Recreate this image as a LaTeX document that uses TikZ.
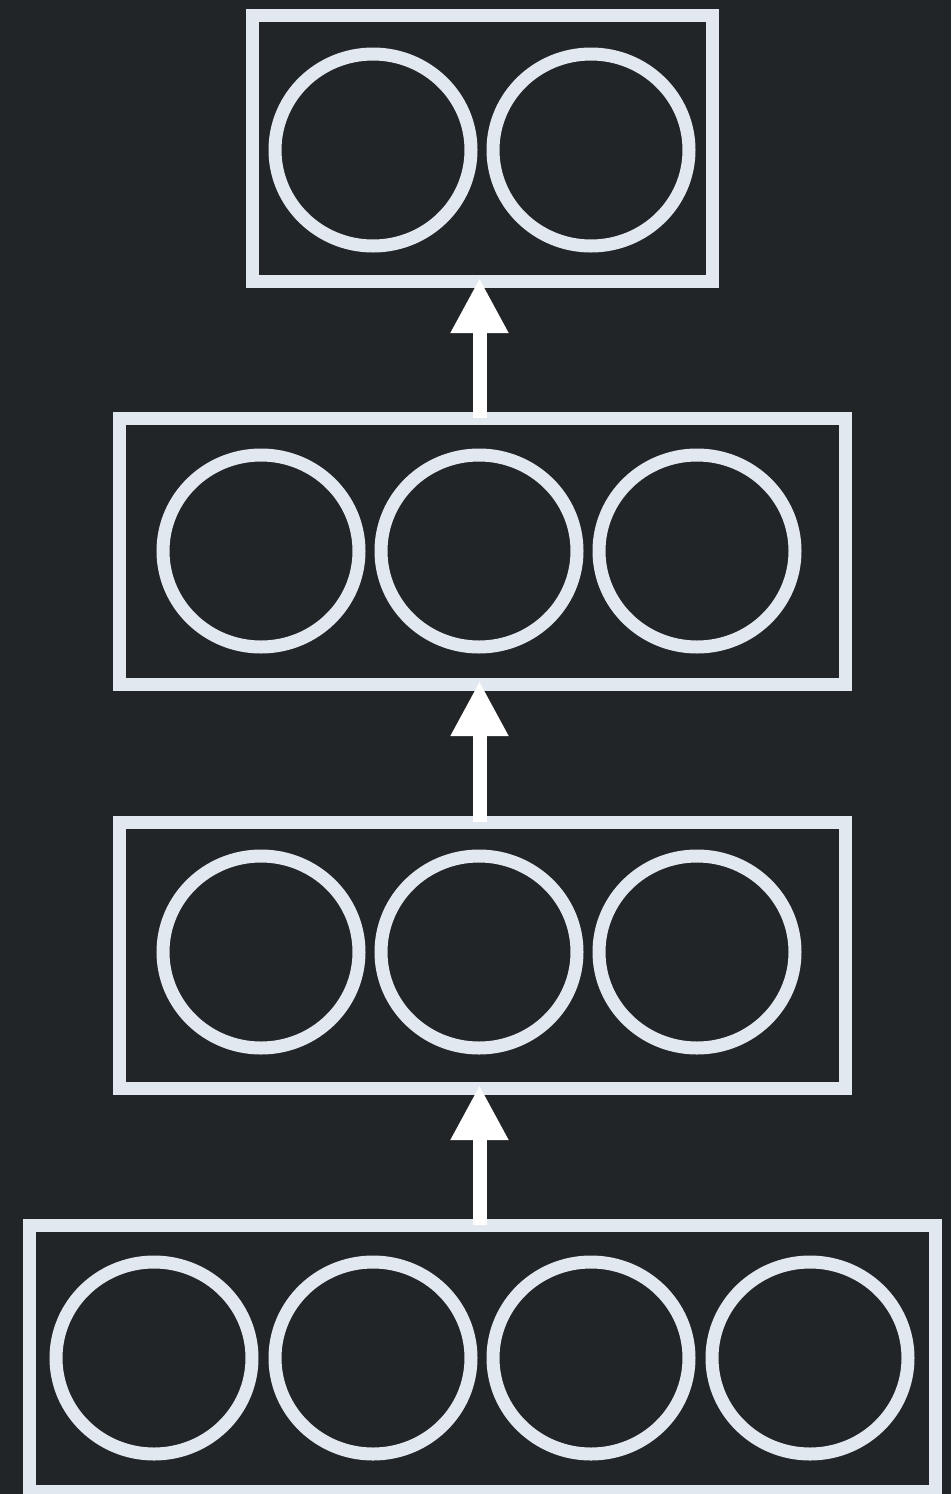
\documentclass[tikz,border=0pt]{standalone}
\usetikzlibrary{shapes.geometric,arrows.meta}
\definecolor{bgdark}{HTML}{222528}
\definecolor{strokelight}{HTML}{E2E8F0}
\tikzset{
  layerbox/.style={draw=strokelight, line width=13pt, rectangle, inner sep=0pt, outer sep=0pt, minimum height=266pt},
  unit/.style={draw=strokelight, line width=13pt, ellipse, inner sep=0pt, outer sep=0pt, minimum width=196pt, minimum height=192pt},
  flow/.style={draw=white, line width=14pt, -{Triangle[length=55pt,width=54pt]}}
}
\begin{document}
\begin{tikzpicture}[x=1pt,y=-1pt]
  \fill[bgdark] (0,0) rectangle (951,1494);
  \useasboundingbox (0,0) rectangle (951,1494);

  % layers, top to bottom
  \node[layerbox, minimum width=460pt] (L4) at (482,148) {};
  \node[layerbox, minimum width=726pt] (L3) at (482.5,551) {};
  \node[layerbox, minimum width=726pt] (L2) at (482.5,955) {};
  \node[layerbox, minimum width=906pt] (L1) at (482,1358) {};

  % units of each layer
  \node[unit] (u41) at (373,150) {};
  \node[unit] (u42) at (591,150) {};

  \node[unit] (u31) at (261,551) {};
  \node[unit] (u32) at (479,551) {};
  \node[unit] (u33) at (697,551) {};

  \node[unit] (u21) at (261,952) {};
  \node[unit] (u22) at (479,952) {};
  \node[unit] (u23) at (697,952) {};

  \node[unit] (u11) at (154,1358) {};
  \node[unit] (u12) at (373,1358) {};
  \node[unit] (u13) at (591,1358) {};
  \node[unit] (u14) at (810,1358) {};

  % connections between layers
  \coordinate (t4) at ([yshift=3pt]L4.south -| 479.5,0);
  \coordinate (t3) at ([yshift=3pt]L3.south -| 479.5,0);
  \coordinate (t2) at ([yshift=3pt]L2.south -| 479.5,0);
  \coordinate (s3) at (L3.north -| 479.5,0);
  \coordinate (s2) at (L2.north -| 479.5,0);
  \coordinate (s1) at (L1.north -| 479.5,0);
  \draw[flow] (s3) -- (t4);
  \draw[flow] (s2) -- (t3);
  \draw[flow] (s1) -- (t2);
\end{tikzpicture}
\end{document}
